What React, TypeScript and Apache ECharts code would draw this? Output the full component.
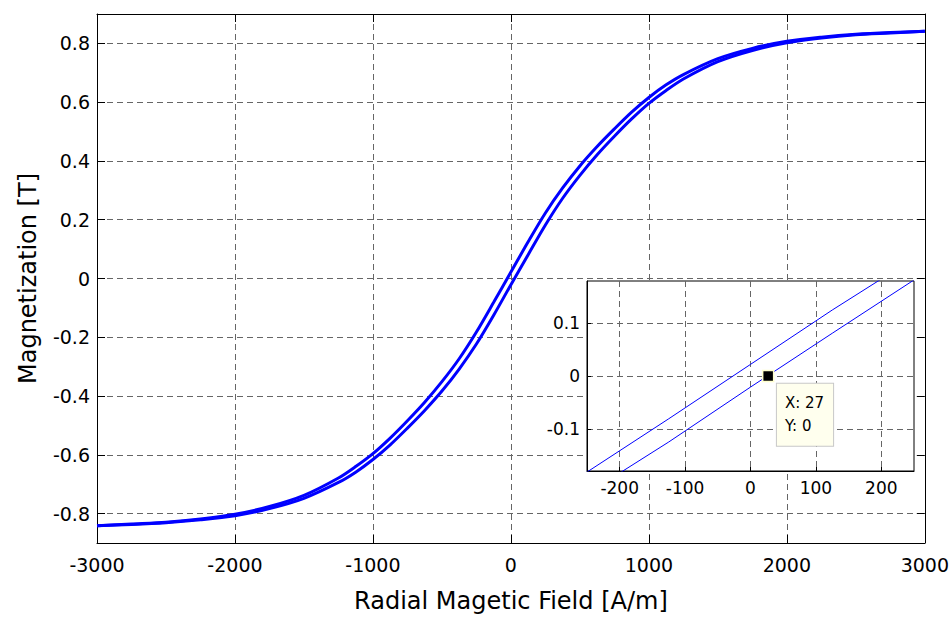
import React, { useEffect, useRef } from "react";
import * as echarts from "echarts";

// Field values [A/m]
const fieldH = [
  -3000, -2750, -2500, -2250, -2000, -1750, -1500, -1250, -1125, -1000, -875, -750, -625, -500, -375, -250, -125,
  0, 125, 250, 375, 500, 625, 750, 875, 1000, 1125, 1250, 1500, 1750, 2000, 2250, 2500, 2750, 3000,
];
// Ascending branch (lower / right curve) [T]
const ascendingM = [
  -0.841, -0.837, -0.831, -0.821, -0.807, -0.783, -0.748, -0.694, -0.659, -0.616, -0.566, -0.509, -0.449, -0.383, -0.308, -0.223, -0.125,
  -0.021, 0.081, 0.182, 0.273, 0.351, 0.421, 0.484, 0.543, 0.596, 0.64, 0.679, 0.738, 0.776, 0.802, 0.818, 0.829, 0.835, 0.841,
];
// Descending branch (upper / left curve) [T]
const descendingM = [
  -0.841, -0.835, -0.829, -0.818, -0.802, -0.776, -0.738, -0.679, -0.64, -0.596, -0.543, -0.484, -0.421, -0.351, -0.273, -0.182, -0.081,
  0.022, 0.125, 0.223, 0.308, 0.383, 0.449, 0.509, 0.566, 0.616, 0.659, 0.694, 0.748, 0.783, 0.807, 0.821, 0.831, 0.837, 0.841,
];
// Data tip in the inset
const dataTip = [27, 0];

// Tick values
const mainYTicks = [-0.8, -0.6, -0.4, -0.2, 0, 0.2, 0.4, 0.6, 0.8];
const insetXTicks = [-200, -100, 0, 100, 200];
const insetYTicks = [-0.1, 0, 0.1];

const FONT = "DejaVu Sans";

export default function App() {
  const ref = useRef<HTMLDivElement>(null);
  useEffect(() => {
    if (!ref.current) return;
    const chart = echarts.init(ref.current, null, { renderer: "svg" });
    const asc = fieldH.map((h, i) => [h, ascendingM[i]]);
    const desc = fieldH.map((h, i) => [h, descendingM[i]]);
    const gridLine = { show: true, lineStyle: { color: "#666", type: [6, 4] as any, width: 1 } };
    const frame = { show: true, onZero: false, lineStyle: { color: "#000", width: 1 } };
    const plain = (v: number) => String(v);
    const mainLabel = { color: "#000", fontFamily: FONT, fontSize: 19, formatter: plain };
    const insetLabel = { color: "#000", fontFamily: FONT, fontSize: 17, formatter: plain };

    const mainLine = (data: number[][]) => ({
      type: "line",
      xAxisIndex: 0,
      yAxisIndex: 0,
      data,
      smooth: 0.3,
      showSymbol: false,
      lineStyle: { color: "#0000ff", width: 3 },
      z: 3,
    });
    const insetLine = (data: number[][]) => ({
      type: "line",
      xAxisIndex: 2,
      yAxisIndex: 2,
      data,
      smooth: false,
      showSymbol: false,
      clip: true,
      lineStyle: { color: "#0000ff", width: 1 },
      z: 4,
    });

    chart.setOption({
      animation: false,
      backgroundColor: "#fff",
      grid: [
        { left: 97, top: 14, width: 828, height: 529, containLabel: false },
        { left: 587, top: 281, width: 327, height: 190, containLabel: false },
      ],
      graphic: [
        {
          type: "rect",
          z: 1,
          shape: { x: 587, y: 281, width: 327, height: 190 },
          style: { fill: "#fff", stroke: "#000", lineWidth: 1 },
        },
      ],
      xAxis: [
        {
          gridIndex: 0,
          type: "value",
          min: -3000,
          max: 3000,
          interval: 1000,
          axisLine: frame,
          axisTick: { show: true, inside: true, length: 8, lineStyle: { color: "#000" } },
          axisLabel: { ...mainLabel, margin: 12 },
          splitLine: gridLine,
          name: "Radial Magetic Field [A/m]",
          nameLocation: "middle",
          nameGap: 46,
          nameTextStyle: { color: "#000", fontFamily: FONT, fontSize: 24 },
        },
        {
          gridIndex: 0,
          type: "value",
          position: "top",
          min: -3000,
          max: 3000,
          interval: 1000,
          axisLine: frame,
          axisTick: { show: true, inside: true, length: 8, lineStyle: { color: "#000" } },
          axisLabel: { show: false },
          splitLine: { show: false },
        },
        {
          gridIndex: 1,
          type: "value",
          min: -250,
          max: 250,
          z: 2,
          axisLine: frame,
          axisTick: { show: true, inside: true, length: 4, customValues: insetXTicks, lineStyle: { color: "#000" } },
          axisLabel: { ...insetLabel, margin: 8, customValues: insetXTicks },
          splitLine: gridLine,
        },
      ],
      yAxis: [
        {
          gridIndex: 0,
          type: "value",
          min: -0.9,
          max: 0.9,
          axisLine: frame,
          axisTick: { show: true, inside: true, length: 8, customValues: mainYTicks, lineStyle: { color: "#000" } },
          axisLabel: { ...mainLabel, margin: 7, customValues: mainYTicks },
          splitLine: gridLine,
          name: "Magnetization [T]",
          nameLocation: "middle",
          nameGap: 57,
          nameRotate: 90,
          nameTextStyle: { color: "#000", fontFamily: FONT, fontSize: 24 },
        },
        {
          gridIndex: 0,
          type: "value",
          position: "right",
          min: -0.9,
          max: 0.9,
          axisLine: frame,
          axisTick: { show: true, inside: true, length: 8, customValues: mainYTicks, lineStyle: { color: "#000" } },
          axisLabel: { show: false, customValues: mainYTicks },
          splitLine: { show: false },
        },
        {
          gridIndex: 1,
          type: "value",
          min: -0.18,
          max: 0.18,
          z: 2,
          axisLine: frame,
          axisTick: { show: true, inside: true, length: 4, customValues: insetYTicks, lineStyle: { color: "#000" } },
          axisLabel: { ...insetLabel, margin: 7, customValues: insetYTicks },
          splitLine: gridLine,
        },
      ],
      series: [
        mainLine(desc),
        mainLine(asc),
        insetLine(desc),
        insetLine(asc),
        {
          type: "scatter",
          xAxisIndex: 2,
          yAxisIndex: 2,
          data: [dataTip],
          symbol: "rect",
          symbolSize: 11,
          itemStyle: { color: "#000", opacity: 1, borderColor: "#ffffcc", borderWidth: 1.5 },
          z: 5,
          label: {
            show: true,
            position: [15, 14],
            formatter: (p: any) => `X: ${p.value[0]}\nY: ${p.value[1]}`,
            color: "#000",
            fontFamily: FONT,
            fontSize: 15,
            lineHeight: 23,
            align: "left",
            verticalAlign: "top",
            backgroundColor: "#ffffee",
            borderColor: "#c8c8c8",
            borderWidth: 1,
            padding: [8, 9, 8, 8],
          },
        },
      ],
    });
    return () => chart.dispose();
  }, []);
  return <div ref={ref} style={{ width: 952, height: 619, position: "absolute", left: 0, top: 0 }} />;
}
